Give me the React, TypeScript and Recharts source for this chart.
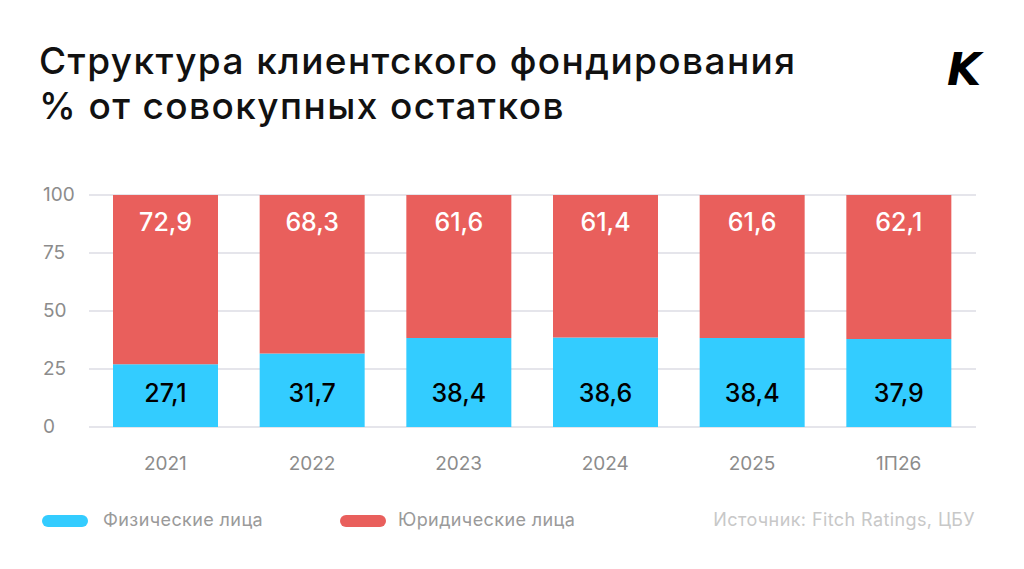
import React from "react"
import { Bar, BarChart, CartesianGrid, LabelList, XAxis, YAxis } from "recharts"

const categories = ["2021", "2022", "2023", "2024", "2025", "1П26"]
const individuals = [27.1, 31.7, 38.4, 38.6, 38.4, 37.9]
const legalEntities = [72.9, 68.3, 61.6, 61.4, 61.6, 62.1]
const yTicks = [0, 25, 50, 75, 100]

const BLUE = "#33CCFF"
const RED = "#E95F5C"
const FONT = "Inter, 'Noto Sans', sans-serif"

const formatValue = (v: number) => v.toFixed(1).replace(".", ",")

function YTick({ y, payload }: any) {
  return (
    <text x={43} y={y} dy={6} textAnchor="start" fontSize={19} fill="#8c8c8c" fontFamily={FONT}>
      {payload.value}
    </text>
  )
}

export default function App() {
  // one row per category for Recharts
  const chartData = categories.map((name, i) => ({
    name,
    individuals: individuals[i],
    legal: legalEntities[i]
  }))

  return (
    <div
      style={{
        position: "fixed",
        left: 0,
        top: 0,
        width: 1024,
        height: 569,
        background: "#fff",
        fontFamily: FONT,
        overflow: "hidden"
      }}
    >
      <div
        style={{
          position: "absolute",
          left: 39,
          top: 38,
          fontSize: 37,
          fontWeight: 500,
          lineHeight: "45px",
          color: "#111",
          letterSpacing: 1.4
        }}
      >
        Структура клиентского фондирования
        <br />% от совокупных остатков
      </div>
      <div
        style={{
          position: "absolute",
          left: 947,
          top: 44,
          fontSize: 44,
          fontWeight: 900,
          fontStyle: "italic",
          color: "#000",
          fontFamily: "'DejaVu Sans', sans-serif"
        }}
      >
        K
      </div>

      <div style={{ position: "absolute", left: 0, top: 0 }}>
        <BarChart
          width={1024}
          height={569}
          data={chartData}
          margin={{ top: 195, right: 48, left: 0, bottom: 112 }}
        >
          <CartesianGrid vertical={false} stroke="#dcdce4" strokeWidth={1.5} />
          <XAxis
            dataKey="name"
            axisLine={false}
            tickLine={false}
            padding={{ left: 3, right: 4 }}
            tick={{ fontSize: 19, fill: "#8c8c8c", fontFamily: FONT }}
            tickMargin={24}
          />
          <YAxis
            domain={[0, 100]}
            ticks={yTicks}
            width={89}
            axisLine={false}
            tickLine={false}
            tick={<YTick />}
          />
          <Bar dataKey="individuals" stackId="a" fill={BLUE} barSize={105} isAnimationActive={false}>
            <LabelList
              dataKey="individuals"
              position="insideBottom"
              offset={25}
              formatter={(v: any) => formatValue(Number(v))}
              style={{ fontSize: 25, fill: "#000", fontFamily: FONT, fontWeight: 500 }}
            />
          </Bar>
          <Bar dataKey="legal" stackId="a" fill={RED} barSize={105} isAnimationActive={false}>
            <LabelList
              dataKey="legal"
              position="insideTop"
              offset={18}
              formatter={(v: any) => formatValue(Number(v))}
              style={{ fontSize: 25, fill: "#fff", fontFamily: FONT, fontWeight: 500 }}
            />
          </Bar>
        </BarChart>
      </div>

      <div
        style={{
          position: "absolute",
          left: 0,
          top: 508,
          width: 1024,
          height: 26,
          fontSize: 18,
          letterSpacing: 0.4,
          color: "#9a9a9a"
        }}
      >
        <span style={{ position: "absolute", left: 42, top: 7, width: 46, height: 12, borderRadius: 6, background: BLUE }} />
        <span style={{ position: "absolute", left: 103, top: 1 }}>Физические лица</span>
        <span style={{ position: "absolute", left: 340, top: 7, width: 46, height: 12, borderRadius: 6, background: RED }} />
        <span style={{ position: "absolute", left: 398, top: 1 }}>Юридические лица</span>
        <span style={{ position: "absolute", right: 49, top: 1, color: "#c8c8c8" }}>
          Источник: Fitch Ratings, ЦБУ
        </span>
      </div>
    </div>
  )
}
